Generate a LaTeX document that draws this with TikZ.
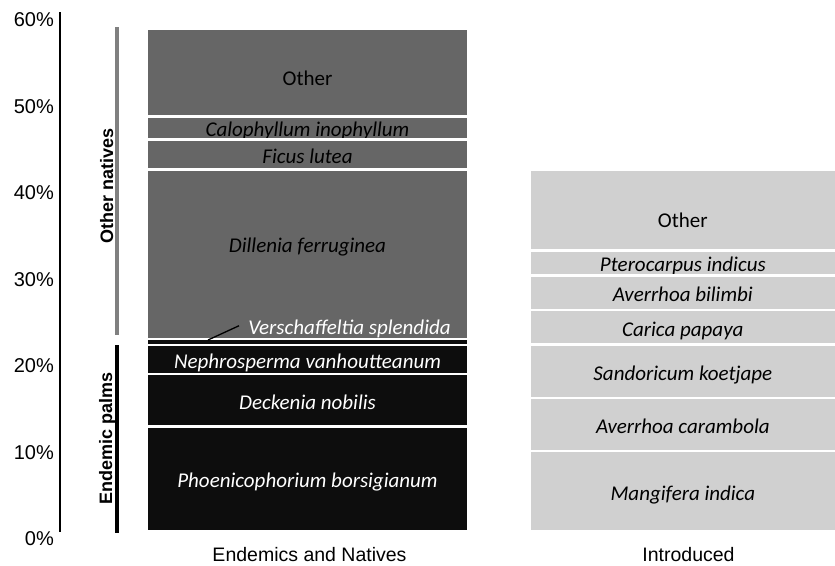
\documentclass[tikz,border=0pt]{standalone}
\usepackage{fontspec}
\setmainfont{Carlito}
\newfontfamily\arialf{Liberation Sans}
\usepackage{tikz}
\definecolor{natgray}{RGB}{102,102,102}
\definecolor{endblack}{RGB}{13,13,13}
\definecolor{intgray}{RGB}{208,208,208}
\definecolor{bracegray}{RGB}{128,128,128}

\begin{document}
\begin{tikzpicture}[x=1pt,y=-1pt]
		\tikzstyle{segtext}=[inner sep=0pt, text height=18pt, text depth=0pt, font=\fontsize{21}{25}\selectfont\itshape]
		\tikzstyle{uptext}=[segtext, font=\fontsize{21}{25}\selectfont]
		\tikzstyle{seg}=[segtext, rectangle, anchor=north west, outer sep=0pt, draw=white, line width=2.7pt]
		\tikzstyle{native}=[seg, fill=natgray, minimum width=321.7pt]
		\tikzstyle{endemic}=[seg, fill=endblack, text=white, minimum width=321.7pt]
		\tikzstyle{intro}=[seg, fill=intgray, minimum width=307pt]
		\tikzstyle{tick}=[anchor=base east, inner sep=0pt, font=\arialf\fontsize{20}{24}\selectfont]
		\tikzstyle{group}=[rotate=90, anchor=base, inner sep=0pt, font=\arialf\bfseries\fontsize{18}{22}\selectfont]
		\tikzstyle{cat}=[anchor=base, inner sep=0pt, font=\arialf\fontsize{19.5}{23}\selectfont]

		\useasboundingbox (0,0) rectangle (835,565);

		% axis
		\draw[black, line width=2pt] (60,12) -- (60,532);
		\node[tick] (t0) at (54,545.7) {0\%};
		\node[tick] (t10) at (54,459.2) {10\%};
		\node[tick] (t20) at (54,372.7) {20\%};
		\node[tick] (t30) at (54,286.2) {30\%};
		\node[tick] (t40) at (54,199.7) {40\%};
		\node[tick] (t50) at (54,113.2) {50\%};
		\node[tick] (t60) at (54,26.7) {60\%};

		% groups
		\draw[bracegray, line width=4.3pt] (117,27) -- (117,335);
		\draw[black, line width=4.3pt] (117,345) -- (117,533);
		\node[group] (natlab) at (113,185.5) {Other natives};
		\node[group] (endlab) at (112,438) {Endemic palms};

		% endemics and natives
		\node[native, minimum height=87.85pt, label={[uptext,yshift=-4pt]center:Other}] (oth1) at (146.65,28.65) {};
		\node[native, minimum height=22.8pt] (calo) at (oth1.south west) {Calophyllum inophyllum};
		\node[native, minimum height=29.9pt] (ficus) at (calo.south west) {Ficus lutea};
		\node[native, minimum height=169.8pt, label={[segtext,yshift=11pt]center:Dillenia ferruginea}] (dill) at (ficus.south west) {};
		\node[endemic, minimum height=6pt, text height=0pt] (vers) at (dill.south west) {};
		\node[endemic, minimum height=29pt] (neph) at (vers.south west) {Nephrosperma vanhoutteanum};
		\node[endemic, minimum height=52.5pt] (deck) at (neph.south west) {Deckenia nobilis};
		\node[endemic, minimum height=104.85pt] (phoe) at (deck.south west) {Phoenicophorium borsigianum};

		\node[segtext, text=white, anchor=base] (versl) at (349.5,334.7) {Verschaffeltia splendida};
		\coordinate (vtip) at (208,340);
		\draw[black, line width=1.3pt] ([xshift=-9pt]versl.west) -- (vtip);

		% introduced
		\node[intro, minimum height=81.25pt, label={[uptext,yshift=-9pt]center:Other}] (oth2) at (529.35,169.35) {};
		\node[intro, minimum height=24.7pt] (ptero) at (oth2.south west) {Pterocarpus indicus};
		\node[intro, minimum height=34.7pt] (bili) at (ptero.south west) {Averrhoa bilimbi};
		\node[intro, minimum height=34.7pt] (cari) at (bili.south west) {Carica papaya};
		\node[intro, minimum height=53.3pt] (sand) at (cari.south west) {Sandoricum koetjape};
		\node[intro, minimum height=53pt] (cara) at (sand.south west) {Averrhoa carambola};
		\node[intro, minimum height=80.35pt] (mang) at (cara.south west) {Mangifera indica};

		\node[cat] (natcat) at (309.5,561.5) {Endemics and Natives};
		\node[cat] (intcat) at (688.5,561) {Introduced};
	\end{tikzpicture}
\end{document}
